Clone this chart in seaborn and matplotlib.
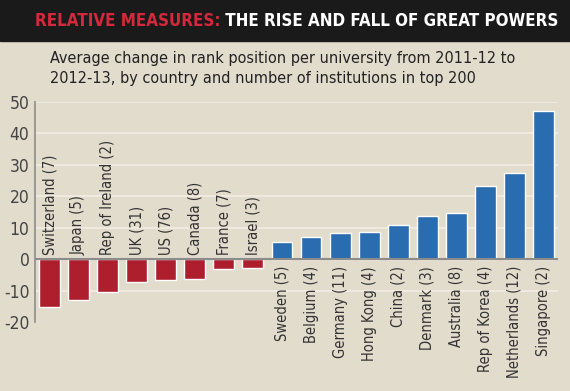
import matplotlib
matplotlib.use("Agg")
import matplotlib.pyplot as plt
import seaborn as sns
from matplotlib.patches import Rectangle

countries = ["Switzerland (7)", "Japan (5)", "Rep of Ireland (2)", "UK (31)", "US (76)",
             "Canada (8)", "France (7)", "Israel (3)", "Sweden (5)", "Belgium (4)",
             "Germany (11)", "Hong Kong (4)", "China (2)", "Denmark (3)", "Australia (8)",
             "Rep of Korea (4)", "Netherlands (12)", "Singapore (2)"]
change = [-15.2, -13.0, -10.5, -7.3, -6.6, -6.2, -3.3, -2.8, 5.5, 6.9,
          8.4, 8.5, 10.9, 13.7, 14.6, 23.2, 27.3, 46.9]
yticks = [-20, -10, 0, 10, 20, 30, 40, 50]

title_red = "RELATIVE MEASURES:"
title_white = " THE RISE AND FALL OF GREAT POWERS"
subtitle = ["Average change in rank position per university from 2011-12 to",
            "2012-13, by country and number of institutions in top 200"]

BG = "#e2dccd"
RED = "#ae1f2e"
BLUE = "#2a6cb0"
TXT = "#333333"

sns.set_style("white")
plt.rcParams["font.family"] = ["DejaVu Sans"]
plt.rcParams["font.stretch"] = "condensed"

fig = plt.figure(figsize=(5.7, 3.91), dpi=100, facecolor=BG)
ax = fig.add_axes([35 / 570, 1 - 322 / 391, (558 - 35) / 570, (322 - 101.7) / 391])
ax.set_facecolor(BG)

colors = [RED if v < 0 else BLUE for v in change]
sns.barplot(x=countries, y=change, hue=countries, palette=colors, legend=False,
            width=0.72, saturation=1, ax=ax, zorder=3)

ax.set_xlim(-0.5, len(countries) - 0.5)
ax.set_ylim(-20, 50)
ax.set_yticks(yticks)
ax.set_yticklabels([str(t) for t in yticks], fontsize=12.5, color="#444444")
ax.tick_params(axis="y", length=0, pad=4)
ax.set_xticks([])
for y in yticks:
    if y > -20 and y != 0:
        ax.axhline(y, color="#f2eee4", lw=1.2, zorder=1)
ax.axhline(0, color="#8c8c8c", lw=1.5, zorder=4)
for s in ["top", "right", "bottom"]:
    ax.spines[s].set_visible(False)
ax.spines["left"].set_color("#8c8c8c")
ax.spines["left"].set_linewidth(1.2)

for i, (name, v) in enumerate(zip(countries, change)):
    if v < 0:
        ax.text(i, 1.2, name, rotation=90, ha="center", va="bottom",
                fontsize=10.5, color=TXT, zorder=5)
    else:
        ax.text(i, -2.2, name, rotation=90, ha="center", va="top",
                fontsize=10.5, color=TXT, zorder=5)

# header band
fig.patches.append(Rectangle((0, 1 - 41 / 391), 1, 41 / 391, transform=fig.transFigure,
                             color="#1b1a1a", zorder=0))

# fit the title into the band width (35..560 px)
r = fig.canvas.get_renderer()
probe = fig.text(0, 0, title_red + title_white, fontsize=15, fontweight="bold")
w = probe.get_window_extent(r).width
probe.remove()
tsize = 15 * (560 - 35) / w

t1 = fig.text(35 / 570, 1 - 21 / 391, title_red, color="#d4283c", fontsize=tsize,
              fontweight="bold", va="center", ha="left")
bb = t1.get_window_extent(r)
fig.text(bb.x1 / fig.bbox.width, 1 - 21 / 391, title_white, color="white",
         fontsize=tsize, fontweight="bold", va="center", ha="left")

for k, line in enumerate(subtitle):
    fig.text(50 / 570, 1 - (63 + 20 * k) / 391, line, fontsize=11.6, color="#222222",
             ha="left", va="baseline")

fig.savefig("out.png", dpi=100, facecolor=BG)
